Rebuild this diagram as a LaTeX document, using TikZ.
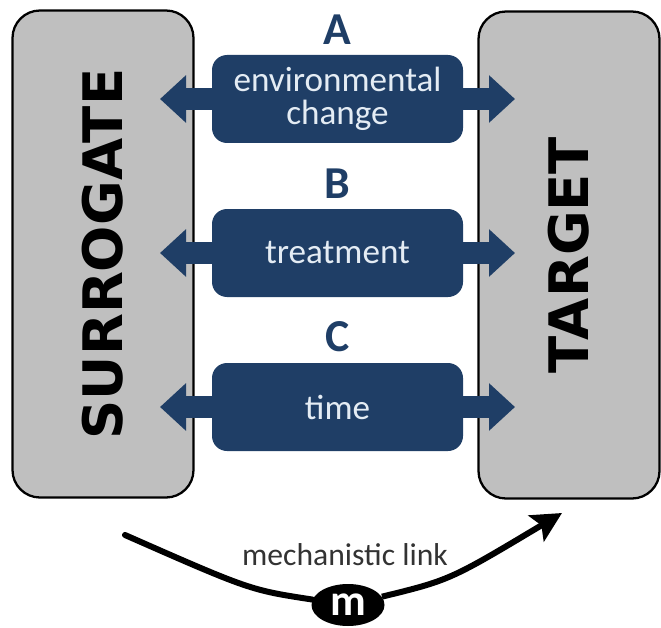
\documentclass[tikz,border=0pt]{standalone}
\usepackage{fontspec}
\setmainfont{Carlito}
\newfontfamily\heavyfont{DejaVu Sans}
\usetikzlibrary{positioning,arrows.meta,shapes.geometric}
\definecolor{navy}{HTML}{1F3E66}
\definecolor{boxgray}{HTML}{BFBFBF}
\definecolor{paletext}{HTML}{E4ECF4}
\definecolor{linktext}{HTML}{333333}

\begin{document}
\begin{tikzpicture}[
        side/.style={draw=black,line width=1.3pt,fill=boxgray,rounded corners=0.55cm,
            minimum width=9.74cm,minimum height=3.62cm,rotate=90,
            font=\heavyfont\bfseries\fontsize{31}{31}\selectfont},
        factor/.style={fill=navy,rounded corners=0.3cm,minimum width=5.02cm,minimum height=1.76cm,
            text=paletext,align=center,font=\fontsize{20}{19}\selectfont},
        letter/.style={text=navy,inner sep=0pt,font=\bfseries\fontsize{26}{26}\selectfont},
        twoway/.style={navy,line width=0.44cm,{Triangle[length=0.52cm,width=0.92cm]}-{Triangle[length=0.52cm,width=0.92cm]}}
    ]
            \useasboundingbox (0,0) rectangle (13.22,-12.56);
            \node[side] (sur) at (2.06,-5.08) {SURROGATE};
            \node[side] (tgt) at (11.38,-5.10) {TARGET};
            \coordinate (envL) at (3.2,-1.98);
            \coordinate (envR) at (10.3,-1.98);
            \coordinate (trtL) at (3.2,-5.06);
            \coordinate (trtR) at (10.3,-5.06);
            \coordinate (timeL) at (3.2,-8.14);
            \coordinate (timeR) at (10.3,-8.14);
            \draw[twoway] (envL) -- (envR);
            \draw[twoway] (trtL) -- (trtR);
            \draw[twoway] (timeL) -- (timeR);
            \node[factor] (env) at (6.75,-1.98) {environmental\\change};
            \node[factor] (trt) at (6.75,-5.06) {treatment};
            \node[factor] (time) at (6.75,-8.14) {time};
            \node[letter,above=0.2cm of env] (labA) {A};
            \node[letter,above=0.2cm of trt] (labB) {B};
            \node[letter,above=0.2cm of time] (labC) {C};
            \node[ellipse,fill=black,text=white,inner sep=0pt,minimum width=1.46cm,minimum height=0.84cm,
                font=\bfseries\fontsize{25}{25}\selectfont] (mnode) at (6.96,-12.1) {m};
            \coordinate (mstart) at (2.5,-10.7);
            \coordinate (mend) at (11.24,-10.26);
            \draw[line width=0.12cm,line cap=round] (mstart) .. controls (5,-11.8) .. (mnode);
            \draw[line width=0.12cm,-{Stealth[length=0.6cm,width=0.6cm,inset=0.12cm]}] (mnode) .. controls (9,-11.6) .. (mend);
            \node[text=linktext,font=\fontsize{18}{18}\selectfont] (link) at (6.9,-11.1) {mechanistic link};
        \end{tikzpicture}
\end{document}
